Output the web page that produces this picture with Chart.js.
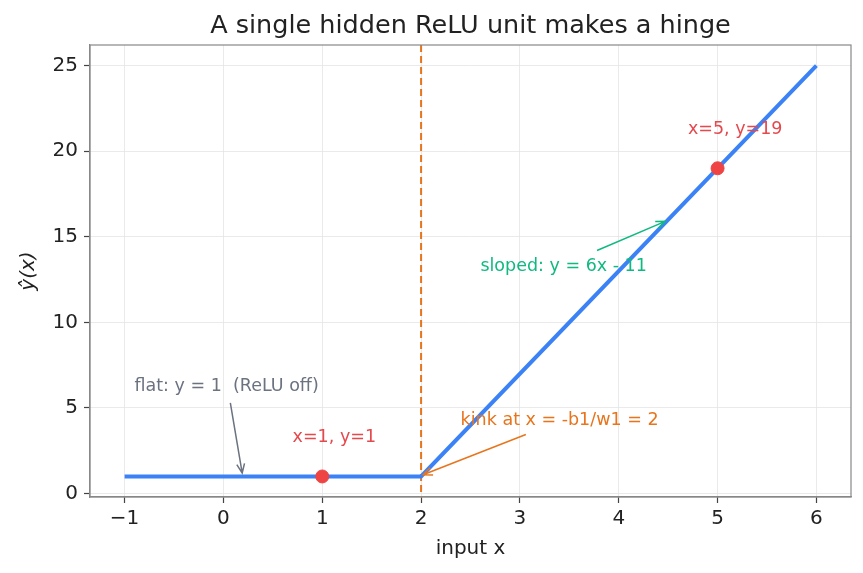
<!DOCTYPE html>
<html>
<head>
<meta charset="utf-8">
<script src="https://cdn.jsdelivr.net/npm/chart.js@4.4.1/dist/chart.umd.min.js"></script>
<style>
  body { margin: 0; background: #fff; }
  canvas { display: block; }
</style>
</head>
<body>
<canvas id="hinge-chart" width="863" height="573"></canvas>
<script>
// Data for the ReLU hinge
const lineX = [-1, 2, 6];
const lineY = [1, 1, 25];
const markX = [1, 5];
const markY = [1, 19];
const kinkX = 2;
const xTicks = [-1, 0, 1, 2, 3, 4, 5, 6];
const yTicks = [0, 5, 10, 15, 20, 25];

// annotation texts: [text, x, y, color, arrowFrom, arrowTo]
const notes = [
    ['x=5, y=19', 4.7, 21, '#e5484d', null, null],
    ['x=1, y=1', 0.7, 3, '#e5484d', null, null],
    ['sloped: y = 6x - 11', 2.6, 13, '#10b981', [3.78, 14.2], [4.47, 15.9]],
    ['kink at x = -b1/w1 = 2', 2.4, 4, '#e8741c', [3.06, 3.45], [2.02, 1.1]],
    ['flat: y = 1  (ReLU off)', -0.9, 6, '#6b7280', [0.07, 5.3], [0.19, 1.2]]
];

const FONT = 'DejaVu Sans';
const TITLE = 'A single hidden ReLU unit makes a hinge';

// title, dashed kink line, frame and annotations
const extras = {
    id: 'extras',
    beforeDatasetsDraw(chart) {
        const {ctx, chartArea: a, scales: {x}} = chart;
        const px = x.getPixelForValue(kinkX);
        ctx.save();
        ctx.strokeStyle = '#e8741c';
        ctx.lineWidth = 2;
        ctx.setLineDash([7, 4]);
        ctx.beginPath();
        ctx.moveTo(px, a.top);
        ctx.lineTo(px, a.bottom);
        ctx.stroke();
        ctx.restore();
    },
    afterDatasetsDraw(chart) {
        const {ctx, chartArea: a, scales: {x, y}} = chart;
        ctx.save();
        ctx.strokeStyle = '#888';
        ctx.lineWidth = 1.2;
        ctx.strokeRect(a.left, a.top, a.right - a.left, a.bottom - a.top);

        ctx.fillStyle = '#222';
        ctx.font = '25.5px "' + FONT + '"';
        ctx.textAlign = 'center';
        ctx.textBaseline = 'alphabetic';
        ctx.fillText(TITLE, (a.left + a.right) / 2, 33);

        ctx.font = '17.5px "' + FONT + '"';
        ctx.textAlign = 'left';
        notes.forEach(([text, tx, ty, color, from, to]) => {
            ctx.fillStyle = color;
            ctx.fillText(text, x.getPixelForValue(tx), y.getPixelForValue(ty));
            if (!from) return;
            const x0 = x.getPixelForValue(from[0]), y0 = y.getPixelForValue(from[1]);
            const x1 = x.getPixelForValue(to[0]), y1 = y.getPixelForValue(to[1]);
            const ang = Math.atan2(y1 - y0, x1 - x0);
            ctx.strokeStyle = color;
            ctx.lineWidth = 1.5;
            ctx.beginPath();
            ctx.moveTo(x0, y0);
            ctx.lineTo(x1, y1);
            ctx.moveTo(x1 - 10 * Math.cos(ang - 0.4), y1 - 10 * Math.sin(ang - 0.4));
            ctx.lineTo(x1, y1);
            ctx.lineTo(x1 - 10 * Math.cos(ang + 0.4), y1 - 10 * Math.sin(ang + 0.4));
            ctx.stroke();
        });
        ctx.restore();
    }
};

const ctxHinge = document.getElementById('hinge-chart').getContext('2d');
new Chart(ctxHinge, {
    type: 'scatter',
    data: {
        datasets: [{
            label: 'markers',
            data: markX.map((v, i) => ({x: v, y: markY[i]})),
            backgroundColor: '#ef4444',
            borderColor: '#ef4444',
            pointRadius: 6.5,
            showLine: false
        }, {
            label: 'relu',
            data: lineX.map((v, i) => ({x: v, y: lineY[i]})),
            borderColor: '#3b82f6',
            borderWidth: 4,
            pointRadius: 0,
            showLine: true,
            tension: 0
        }]
    },
    options: {
        responsive: false,
        animation: false,
        layout: { padding: { left: 0, right: 12, top: 45, bottom: 0 } },
        plugins: {
            legend: { display: false },
            tooltip: { enabled: false },
            title: { display: false }
        },
        scales: {
            x: {
                type: 'linear',
                min: -1.35,
                max: 6.35,
                afterBuildTicks: s => { s.ticks = xTicks.map(v => ({value: v})); },
                afterFit: s => { s.height = 76; },
                ticks: {
                    color: '#222',
                    font: { family: FONT, size: 20 },
                    padding: 4,
                    callback: v => String(v).replace('-', '\u2212')
                },
                grid: { color: '#e4e4e4', lineWidth: 0.8, tickColor: '#444', tickLength: 6, tickWidth: 1.2 },
                border: { display: true, color: '#888', width: 1.2 },
                title: {
                    display: true,
                    text: 'input x',
                    color: '#222',
                    font: { family: FONT, size: 20 },
                    padding: { top: 12, bottom: 12 }
                }
            },
            y: {
                type: 'linear',
                min: -0.2,
                max: 26.2,
                afterBuildTicks: s => { s.ticks = yTicks.map(v => ({value: v})); },
                afterFit: s => { s.width = 90; },
                ticks: {
                    color: '#222',
                    font: { family: FONT, size: 20 },
                    padding: 6
                },
                grid: { color: '#e4e4e4', lineWidth: 0.8, tickColor: '#444', tickLength: 6, tickWidth: 1.2 },
                border: { display: true, color: '#888', width: 1.2 },
                title: {
                    display: true,
                    text: '\u0177(x)',
                    color: '#222',
                    font: { family: FONT, size: 20, style: 'italic' },
                    padding: { top: 17, bottom: 17 }
                }
            }
        }
    },
    plugins: [extras]
});
</script>
</body>
</html>
